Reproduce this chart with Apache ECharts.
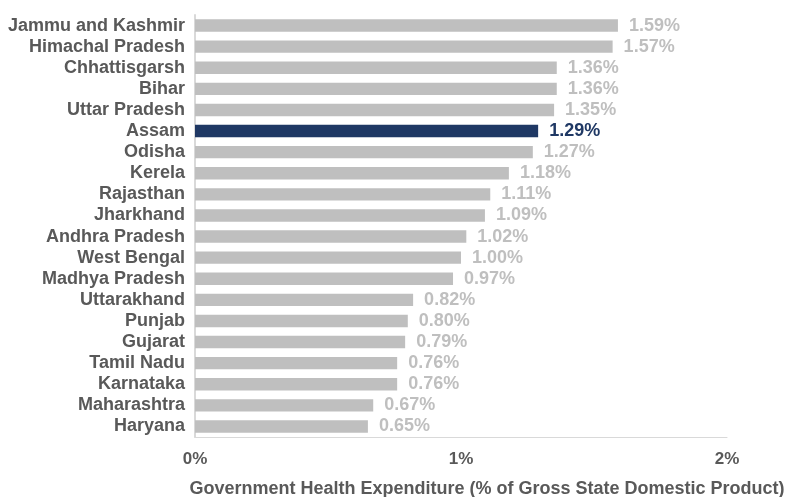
<!DOCTYPE html>
<html>
<head>
<meta charset="utf-8">
<script src="https://cdn.jsdelivr.net/npm/echarts@6/dist/echarts.min.js"></script>
<style>
  html, body { margin: 0; padding: 0; background: #ffffff; }
  #chart { width: 785px; height: 497px; }
</style>
</head>
<body>
<div id="chart"></div>
<script>
// States, top to bottom
const states = [
  'Jammu and Kashmir', 'Himachal Pradesh', 'Chhattisgarsh', 'Bihar', 'Uttar Pradesh',
  'Assam', 'Odisha', 'Kerela', 'Rajasthan', 'Jharkhand',
  'Andhra Pradesh', 'West Bengal', 'Madhya Pradesh', 'Uttarakhand', 'Punjab',
  'Gujarat', 'Tamil Nadu', 'Karnataka', 'Maharashtra', 'Haryana'
];
// Government health expenditure, % of GSDP
const spending = [
  1.59, 1.57, 1.36, 1.36, 1.35,
  1.29, 1.27, 1.18, 1.11, 1.09,
  1.02, 1.00, 0.97, 0.82, 0.80,
  0.79, 0.76, 0.76, 0.67, 0.65
];
const highlighted = 'Assam';
const xTicks = [0, 1, 2];

const GREY = '#bfbfbf';
const NAVY = '#1f3864';
const TEXT = '#595959';
const FONT = 'Liberation Sans, Arial, sans-serif';

// category axis runs bottom-up, so reverse for top-down display
const cats = states.slice().reverse();
const vals = spending.slice().reverse();

const chart = echarts.init(document.getElementById('chart'));
chart.setOption({
  animation: false,
  grid: {
    left: 195, right: 58, top: 15, bottom: 60,
    containLabel: false,
    outerBoundsMode: 'none'
  },
  xAxis: {
    type: 'value',
    min: xTicks[0],
    max: xTicks[xTicks.length - 1],
    interval: 1,
    name: 'Government Health Expenditure (% of Gross State Domestic Product)',
    nameLocation: 'middle',
    nameGap: 43,
    nameTextStyle: {
      fontFamily: FONT, fontWeight: 'bold', fontSize: 18, color: TEXT,
      padding: [0, 0, 0, 52]
    },
    axisLine: { show: true, lineStyle: { color: '#d9d9d9', width: 1 } },
    axisTick: { show: false },
    splitLine: { show: false },
    axisLabel: {
      margin: 14,
      fontFamily: FONT, fontWeight: 'bold', fontSize: 17, color: TEXT,
      formatter: v => v + '%'
    }
  },
  yAxis: {
    type: 'category',
    data: cats,
    axisLine: { show: true, lineStyle: { color: '#d9d9d9', width: 2 } },
    axisTick: { show: false },
    axisLabel: {
      interval: 0,
      margin: 10,
      fontFamily: FONT, fontWeight: 'bold', fontSize: 18, color: TEXT
    }
  },
  series: [{
    type: 'bar',
    barCategoryGap: '41%',
    data: vals.map((v, i) => ({
      value: v,
      itemStyle: { color: cats[i] === highlighted ? NAVY : GREY },
      label: { color: cats[i] === highlighted ? NAVY : GREY }
    })),
    label: {
      show: true,
      position: 'right',
      distance: 11,
      fontFamily: FONT, fontWeight: 'bold', fontSize: 18,
      formatter: p => p.value.toFixed(2) + '%'
    }
  }]
});
</script>
</body>
</html>
